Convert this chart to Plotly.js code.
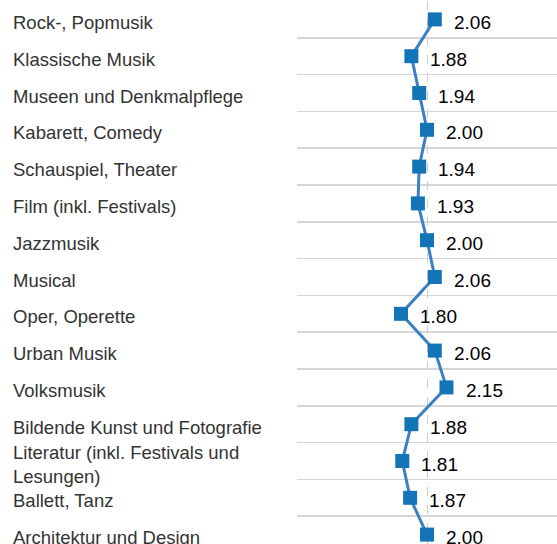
<!DOCTYPE html>
<html>
<head>
<meta charset="utf-8">
<script src="https://cdn.plot.ly/plotly-3.0.1.min.js"></script>
<style>
html, body { margin: 0; padding: 0; overflow: hidden; background: #fff; }
</style>
</head>
<body>
<div id="chart"></div>
<script>
var categories = [
	"Rock-, Popmusik",
	"Klassische Musik",
	"Museen und Denkmalpflege",
	"Kabarett, Comedy",
	"Schauspiel, Theater",
	"Film (inkl. Festivals)",
	"Jazzmusik",
	"Musical",
	"Oper, Operette",
	"Urban Musik",
	"Volksmusik",
	"Bildende Kunst und Fotografie",
	"Literatur (inkl. Festivals und Lesungen)",
	"Ballett, Tanz",
	"Architektur und Design"
];

var labels = [
	"Rock-, Popmusik",
	"Klassische Musik",
	"Museen und Denkmalpflege",
	"Kabarett, Comedy",
	"Schauspiel, Theater",
	"Film (inkl. Festivals)",
	"Jazzmusik",
	"Musical",
	"Oper, Operette",
	"Urban Musik",
	"Volksmusik",
	"Bildende Kunst und Fotografie",
	"Literatur (inkl. Festivals und<br>Lesungen)",
	"Ballett, Tanz",
	"Architektur und Design"
];

var values = [2.06, 1.88, 1.94, 2.00, 1.94, 1.93, 2.00, 2.06, 1.80, 2.06, 2.15, 1.88, 1.81, 1.87, 2.00];

var W = 557;
var plotLeft = 297;
var font = "Liberation Sans, Arial, sans-serif";

var line = {
	type: "scatter",
	mode: "lines+markers",
	x: values,
	y: categories,
	line: {color: "#3a80c3", width: 3},
	marker: {symbol: "square", size: 14, color: "#1474b8"},
	cliponaxis: false,
	hoverinfo: "skip"
};

var annotations = [];
for (var i = 0; i < categories.length; i++) {
	// category names, left aligned at the page edge
	annotations.push({
		xref: "paper",
		yref: "y",
		x: (11 - plotLeft) / (W - plotLeft),
		y: categories[i],
		yshift: -3,
		xanchor: "left",
		yanchor: "middle",
		align: "left",
		text: labels[i],
		showarrow: false,
		font: {family: font, size: 18.5, color: "#333"}
	});
	// value next to each marker
	annotations.push({
		xref: "x",
		yref: "y",
		x: values[i],
		y: categories[i],
		xshift: 17,
		yshift: -3,
		xanchor: "left",
		yanchor: "middle",
		text: values[i].toFixed(2),
		showarrow: false,
		font: {family: font, size: 19, color: "#000"}
	});
}

var layout = {
	width: W,
	height: 553,
	margin: {l: plotLeft, r: 0, t: 1, b: 0},
	paper_bgcolor: "#fff",
	plot_bgcolor: "#fff",
	showlegend: false,
	xaxis: {
		range: [1, 3],
		tickvals: [2],
		showticklabels: false,
		showgrid: true,
		gridcolor: "#cccccc",
		griddash: "dash",
		gridwidth: 1,
		zeroline: false,
		showline: false,
		fixedrange: true
	},
	yaxis: {
		type: "category",
		categoryorder: "array",
		categoryarray: categories,
		range: [14.5, -0.5],
		tickson: "boundaries",
		showticklabels: false,
		showgrid: true,
		gridcolor: "#d6d6d6",
		gridwidth: 1.5,
		zeroline: false,
		showline: false,
		ticks: "",
		fixedrange: true
	},
	annotations: annotations
};

Plotly.newPlot("chart", [line], layout, {displayModeBar: false, staticPlot: true});
</script>
</body>
</html>
